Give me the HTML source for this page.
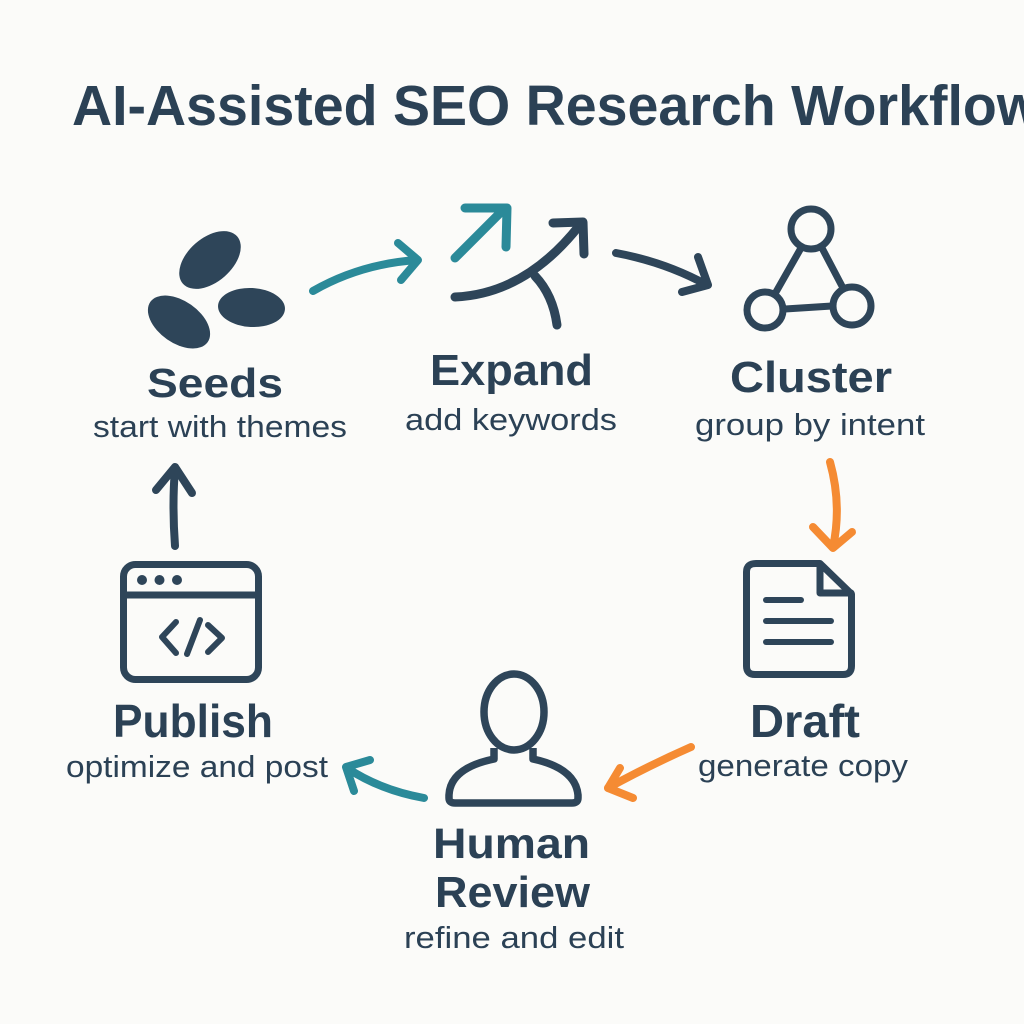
<!DOCTYPE html>
<html>
<head>
<meta charset="utf-8">
<style>
  html, body { margin:0; padding:0; background:#fbfbf9; }
  svg { display:block; }
  text { font-family: "Liberation Sans", Arial, sans-serif; fill:#2b4155; }
  .b { font-weight:bold; }
</style>
</head>
<body>
<svg width="1024" height="1024" viewBox="0 0 1024 1024" xmlns="http://www.w3.org/2000/svg">
  <rect width="1024" height="1024" fill="#fbfbf9"/>

  <!-- Title -->
  <text class="b" x="72" y="125" font-size="57" textLength="968" lengthAdjust="spacingAndGlyphs">AI-Assisted SEO Research Workflow</text>

  <!-- Seeds icon -->
  <g fill="#2e4559">
    <ellipse cx="210" cy="260" rx="36" ry="22" transform="rotate(-41 210 260)"/>
    <ellipse cx="179" cy="322" rx="35" ry="21" transform="rotate(35 179 322)"/>
    <ellipse cx="251.5" cy="307.5" rx="33.5" ry="19.5" transform="rotate(3 251.5 307.5)"/>
  </g>
  <text class="b" x="147" y="397" font-size="41" textLength="136" lengthAdjust="spacingAndGlyphs">Seeds</text>
  <text x="93" y="437" font-size="31" textLength="254" lengthAdjust="spacingAndGlyphs">start with themes</text>

  <!-- Arrow Seeds -> Expand (teal) -->
  <g fill="none" stroke="#2b8a99" stroke-width="8" stroke-linecap="round" stroke-linejoin="round">
    <path d="M313,291 Q360,264 417,260"/>
    <path d="M398,243 L418,260 L401,280"/>
  </g>

  <!-- Expand icon -->
  <g fill="none" stroke-width="9" stroke-linecap="round" stroke-linejoin="round">
    <path d="M455,258 L503,210" stroke="#2b8a99"/>
    <path d="M465,208 L507,208 L506,247" stroke="#2b8a99"/>
    <path d="M455,297 Q525,294 579,226" stroke="#2e4559"/>
    <path d="M553,223 L583,222 L584,254" stroke="#2e4559"/>
    <path d="M535,276 Q553,295 557,325" stroke="#2e4559"/>
  </g>
  <text class="b" x="430" y="385" font-size="44" textLength="163" lengthAdjust="spacingAndGlyphs">Expand</text>
  <text x="405" y="430" font-size="31" textLength="212" lengthAdjust="spacingAndGlyphs">add keywords</text>

  <!-- Arrow Expand -> Cluster -->
  <g fill="none" stroke="#2e4559" stroke-width="8" stroke-linecap="round" stroke-linejoin="round">
    <path d="M616,253 Q665,262 707,285"/>
    <path d="M698,257 L708,285 L682,292"/>
  </g>

  <!-- Cluster icon -->
  <g fill="none" stroke="#2e4559" stroke-width="7" stroke-linecap="round">
    <line x1="801" y1="248" x2="776" y2="292"/>
    <line x1="822" y1="248" x2="843" y2="288"/>
    <line x1="785" y1="309" x2="832" y2="306"/>
    <circle cx="811" cy="229" r="20"/>
    <circle cx="765" cy="310" r="18"/>
    <circle cx="852" cy="306" r="19"/>
  </g>
  <text class="b" x="730" y="392" font-size="44" textLength="162" lengthAdjust="spacingAndGlyphs">Cluster</text>
  <text x="695" y="435" font-size="31" textLength="230" lengthAdjust="spacingAndGlyphs">group by intent</text>

  <!-- Arrow Cluster -> Draft (orange) -->
  <g fill="none" stroke="#f58b33" stroke-width="8" stroke-linecap="round" stroke-linejoin="round">
    <path d="M830,462 Q842,505 833,547"/>
    <path d="M813,527 L833,548 L852,532"/>
  </g>

  <!-- Draft icon -->
  <g fill="none" stroke="#2e4559" stroke-width="7" stroke-linecap="round" stroke-linejoin="round">
    <path d="M756,563.5 L820,563.5 L851.5,594 L851.5,666 Q851.5,674.5 843,674.5 L755,674.5 Q746.5,674.5 746.5,666 L746.5,572 Q746.5,563.5 756,563.5 Z"/>
    <path d="M820,564 L820,593 L851,593"/>
    <line x1="766" y1="600" x2="801" y2="600" stroke-width="6"/>
    <line x1="766" y1="621" x2="831" y2="621" stroke-width="6"/>
    <line x1="766" y1="642" x2="831" y2="642" stroke-width="6"/>
  </g>
  <text class="b" x="750" y="737" font-size="46" textLength="110" lengthAdjust="spacingAndGlyphs">Draft</text>
  <text x="698" y="776" font-size="31" textLength="210" lengthAdjust="spacingAndGlyphs">generate copy</text>

  <!-- Arrow Draft -> Human (orange) -->
  <g fill="none" stroke="#f58b33" stroke-width="8" stroke-linecap="round" stroke-linejoin="round">
    <path d="M691,747 Q650,765 608,788"/>
    <path d="M620,768 L608,788 L633,798"/>
  </g>

  <!-- Human icon -->
  <g fill="none" stroke="#2e4559" stroke-width="7.5" stroke-linejoin="round">
    <ellipse cx="514" cy="712" rx="30" ry="38"/>
    <path d="M494,748 L494,759 C470,764 450,774 449,795 L449,798 Q449,803 455,803 L572,803 Q578,803 578,798 L578,795 C576,774 556,764 533,759 L533,748"/>
  </g>
  <text class="b" x="433" y="858" font-size="43" textLength="157" lengthAdjust="spacingAndGlyphs">Human</text>
  <text class="b" x="435" y="907" font-size="44" textLength="155" lengthAdjust="spacingAndGlyphs">Review</text>
  <text x="404" y="948" font-size="31" textLength="220" lengthAdjust="spacingAndGlyphs">refine and edit</text>

  <!-- Arrow Human -> Publish (teal) -->
  <g fill="none" stroke="#2b8a99" stroke-width="8" stroke-linecap="round" stroke-linejoin="round">
    <path d="M424,798 Q380,790 347,768"/>
    <path d="M370,760 L346,767 L354,791"/>
  </g>

  <!-- Publish icon -->
  <g fill="none" stroke="#2e4559" stroke-width="7" stroke-linecap="round" stroke-linejoin="round">
    <rect x="123.5" y="564.5" width="135" height="115" rx="12"/>
    <line x1="124" y1="595" x2="258" y2="595"/>
    <path d="M176,622 L162,637 L176,653" stroke-width="6"/>
    <path d="M200,620 L187,654" stroke-width="6"/>
    <path d="M208,625 L222,638 L208,652" stroke-width="6"/>
  </g>
  <g fill="#2e4559">
    <circle cx="142" cy="580" r="5"/>
    <circle cx="159.5" cy="580" r="5"/>
    <circle cx="177" cy="580" r="5"/>
  </g>
  <text class="b" x="113" y="737" font-size="46" textLength="160" lengthAdjust="spacingAndGlyphs">Publish</text>
  <text x="66" y="777" font-size="31" textLength="262" lengthAdjust="spacingAndGlyphs">optimize and post</text>

  <!-- Arrow Publish -> Seeds -->
  <g fill="none" stroke="#2e4559" stroke-width="8" stroke-linecap="round" stroke-linejoin="round">
    <path d="M175,546 Q172,505 175,468"/>
    <path d="M156,490 L175,467 L192,493"/>
  </g>
</svg>
</body>
</html>
